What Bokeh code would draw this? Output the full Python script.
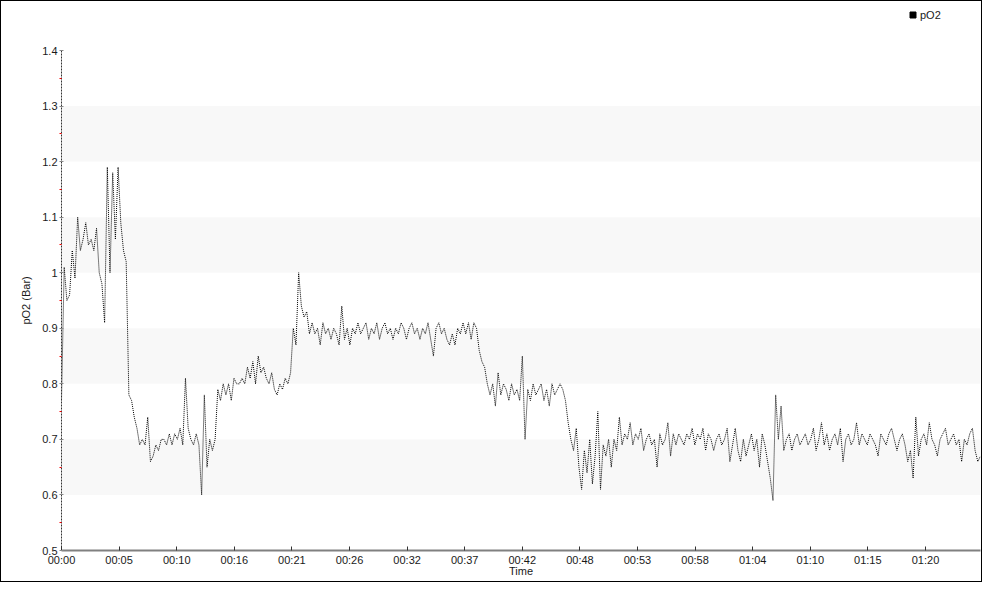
import numpy as np
from bokeh.plotting import figure
from bokeh.models import (Range1d, FixedTicker, ColumnDataSource, Legend,
                          LegendItem, BoxAnnotation)
from bokeh.embed import file_html
from bokeh.resources import INLINE

# ---- data ----
SAMPLE_MIN = 0.25  # minutes between samples
po2 = [
    0.77, 1.01, 0.95, 0.96, 1.04, 0.99, 1.10, 1.04, 1.06, 1.09,
    1.05, 1.06, 1.04, 1.08, 1.00, 0.98, 0.91, 1.19, 1.00, 1.18,
    1.06, 1.19, 1.09, 1.04, 1.02, 0.78, 0.77, 0.74, 0.72, 0.69,
    0.70, 0.69, 0.74, 0.66, 0.67, 0.69, 0.68, 0.70, 0.70, 0.69,
    0.71, 0.69, 0.71, 0.70, 0.72, 0.69, 0.81, 0.72, 0.70, 0.69,
    0.71, 0.69, 0.60, 0.78, 0.65, 0.70, 0.68, 0.70, 0.79, 0.77,
    0.80, 0.78, 0.80, 0.77, 0.81, 0.80, 0.80, 0.81, 0.80, 0.83,
    0.81, 0.84, 0.80, 0.85, 0.82, 0.83, 0.81, 0.80, 0.82, 0.79,
    0.78, 0.80, 0.79, 0.81, 0.80, 0.82, 0.90, 0.87, 1.00, 0.94,
    0.92, 0.93, 0.89, 0.91, 0.89, 0.90, 0.87, 0.91, 0.89, 0.90,
    0.88, 0.90, 0.89, 0.87, 0.94, 0.88, 0.90, 0.87, 0.90, 0.89,
    0.91, 0.89, 0.90, 0.91, 0.88, 0.90, 0.89, 0.91, 0.88, 0.90,
    0.91, 0.89, 0.90, 0.88, 0.90, 0.89, 0.91, 0.90, 0.88, 0.90,
    0.91, 0.89, 0.90, 0.88, 0.90, 0.89, 0.91, 0.88, 0.85, 0.90,
    0.91, 0.89, 0.90, 0.88, 0.87, 0.89, 0.87, 0.90, 0.89, 0.91,
    0.89, 0.91, 0.88, 0.91, 0.90, 0.86, 0.84, 0.83, 0.80, 0.78,
    0.80, 0.76, 0.82, 0.78, 0.80, 0.79, 0.77, 0.80, 0.78, 0.79,
    0.77, 0.85, 0.70, 0.79, 0.77, 0.80, 0.78, 0.79, 0.80, 0.77,
    0.79, 0.76, 0.80, 0.78, 0.79, 0.80, 0.79, 0.77, 0.73, 0.70,
    0.68, 0.72, 0.65, 0.61, 0.68, 0.64, 0.70, 0.62, 0.67, 0.75,
    0.61, 0.69, 0.67, 0.70, 0.65, 0.70, 0.68, 0.74, 0.69, 0.71,
    0.70, 0.73, 0.69, 0.71, 0.70, 0.72, 0.68, 0.70, 0.71, 0.69,
    0.70, 0.65, 0.71, 0.69, 0.70, 0.73, 0.67, 0.71, 0.69, 0.71,
    0.70, 0.69, 0.71, 0.70, 0.72, 0.69, 0.71, 0.70, 0.72, 0.68,
    0.71, 0.70, 0.68, 0.70, 0.71, 0.69, 0.70, 0.72, 0.66, 0.69,
    0.72, 0.68, 0.66, 0.70, 0.67, 0.69, 0.71, 0.68, 0.70, 0.65,
    0.71, 0.69, 0.66, 0.63, 0.59, 0.78, 0.70, 0.76, 0.68, 0.70,
    0.71, 0.68, 0.70, 0.71, 0.69, 0.70, 0.71, 0.69, 0.70, 0.72,
    0.68, 0.70, 0.73, 0.69, 0.71, 0.68, 0.70, 0.71, 0.69, 0.72,
    0.66, 0.70, 0.71, 0.69, 0.70, 0.73, 0.69, 0.71, 0.70, 0.69,
    0.71, 0.70, 0.69, 0.67, 0.71, 0.70, 0.69, 0.71, 0.72, 0.70,
    0.68, 0.70, 0.71, 0.69, 0.66, 0.68, 0.63, 0.74, 0.67, 0.70,
    0.71, 0.69, 0.73, 0.70, 0.69, 0.67, 0.70, 0.71, 0.72, 0.69,
    0.70, 0.71, 0.69, 0.70, 0.66, 0.70, 0.69, 0.71, 0.72, 0.68,
    0.66, 0.67,
]
time_min = np.arange(len(po2)) * SAMPLE_MIN

x_tick_pos = [0, 5.34, 10.69, 16.03, 21.37, 26.72, 32.06, 37.40, 42.74,
              48.09, 53.43, 58.77, 64.12, 69.46, 74.80, 80.15]
x_tick_labels = ["00:00", "00:05", "00:10", "00:16", "00:21", "00:26", "00:32",
                 "00:37", "00:42", "00:48", "00:53", "00:58", "01:04", "01:10",
                 "01:15", "01:20"]
y_ticks = [0.5, 0.6, 0.7, 0.8, 0.9, 1.0, 1.1, 1.2, 1.3, 1.4]
y_tick_labels = ["0.5", "0.6", "0.7", "0.8", "0.9", "1", "1.1", "1.2", "1.3", "1.4"]
y_minor = [0.55, 0.65, 0.75, 0.85, 0.95, 1.05, 1.15, 1.25, 1.35]
series_name = "pO2"

FONT = "Liberation Sans"
FS = "11px"
TXT = "#1a1a1a"

# frame spans the full height above the axis; 1.4 sits 49px below the top
p = figure(width=982, height=582, output_backend="svg", toolbar_location=None,
           x_range=Range1d(0, 85.25), y_range=Range1d(0.5, 1.4882),
           min_border_left=60, min_border_right=3, min_border_top=0,
           min_border_bottom=33)
p.styles = {"border": "1px solid black"}
p.outline_line_color = None
p.background_fill_color = "white"
p.border_fill_color = "white"

# alternating light bands between every other pair of y ticks
for lo, hi in zip(y_ticks[1::2], y_ticks[2::2]):
    p.add_layout(BoxAnnotation(bottom=lo, top=hi, fill_color="#f8f8f8",
                               fill_alpha=1.0, line_color=None, level="underlay"))

src = ColumnDataSource(dict(t=time_min, v=po2))
p.line("t", "v", source=src, line_color="black", line_width=1, line_dash="1 1")

# legend marker (square) for the series; its single point is NaN, so only the
# legend swatch is drawn
sq = p.scatter(x=[float("nan")], y=[float("nan")], marker="square", size=6,
               fill_color="black", line_color="black")
legend = Legend(items=[LegendItem(label=series_name, renderers=[sq])],
                location=(844, 528), glyph_width=15, glyph_height=15,
                label_height=15, label_standoff=0, padding=0, margin=0,
                spacing=0, border_line_color=None, background_fill_alpha=0,
                label_text_font=FONT, label_text_font_size=FS,
                label_text_color=TXT)
p.add_layout(legend)

# grids off (bands drawn above)
p.xgrid.visible = False
p.ygrid.visible = False

# x axis
xa = p.xaxis[0]
xa.ticker = FixedTicker(ticks=x_tick_pos)
xa.major_label_overrides = {t: l for t, l in zip(x_tick_pos, x_tick_labels)}
xa.axis_line_color = "#808080"
xa.axis_line_width = 2
xa.major_tick_in = 4
xa.major_tick_out = 0
xa.major_tick_line_color = "#333333"
xa.minor_tick_line_color = None
xa.major_label_standoff = 3
xa.major_label_text_font = FONT
xa.major_label_text_font_size = FS
xa.major_label_text_color = TXT
xa.axis_label = "Time"
xa.axis_label_text_font = FONT
xa.axis_label_text_font_size = FS
xa.axis_label_text_font_style = "normal"
xa.axis_label_text_color = TXT
xa.axis_label_standoff = -4

# y axis
ya = p.yaxis[0]
ya.bounds = (0.5, 1.4)
ya.ticker = FixedTicker(ticks=y_ticks, minor_ticks=y_minor)
ya.major_label_overrides = {t: l for t, l in zip(y_ticks, y_tick_labels)}
ya.axis_line_color = "#333333"
ya.axis_line_dash = "2 1"
ya.major_tick_in = 2
ya.major_tick_out = 2
ya.major_tick_line_color = "#888888"
ya.minor_tick_in = 0
ya.minor_tick_out = 2
ya.minor_tick_line_color = "red"
ya.major_label_standoff = 2
ya.major_label_text_font = FONT
ya.major_label_text_font_size = FS
ya.major_label_text_color = TXT
# trailing no-break spaces keep the visible label centred on the 0.5-1.4 span
ya.axis_label = "pO2 (Bar)" + "\u00a0" * 16
ya.axis_label_text_font = FONT
ya.axis_label_text_font_size = FS
ya.axis_label_text_font_style = "normal"
ya.axis_label_text_color = TXT
ya.axis_label_standoff = 7

open("out.html", "w").write(file_html(p, INLINE))
